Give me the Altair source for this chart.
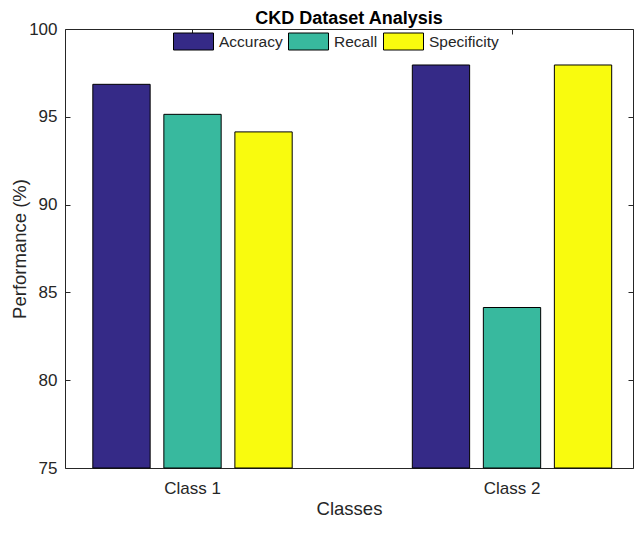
import altair as alt
import pandas as pd

classes = ["Class 1", "Class 2"]
metrics = ["Accuracy", "Recall", "Specificity"]
accuracy = [96.85, 97.95]
recall = [95.14, 84.14]
specificity = [94.14, 97.95]
colors = ["#352A87", "#38B99E", "#F9FB0E"]
y_ticks = [75, 80, 85, 90, 95, 100]

rows = []
for i, c in enumerate(classes):
    for m, vals in zip(metrics, [accuracy, recall, specificity]):
        rows.append({"Class": c, "Metric": m, "Value": vals[i]})
df = pd.DataFrame(rows)

W, H = 568, 439
FONT = "Liberation Sans"
AX = "#262626"

x_scale = alt.Scale(paddingInner=0.2426, paddingOuter=0.0102, align=1)
xo_scale = alt.Scale(paddingInner=0.193, paddingOuter=0.30)
y_scale = alt.Scale(domain=[75, 100], nice=False, zero=False)

def base(x_axis, y_axis, color=None, opacity=1.0):
    enc = dict(
        x=alt.X("Class:N", sort=classes, scale=x_scale, axis=x_axis),
        xOffset=alt.XOffset("Metric:N", sort=metrics, scale=xo_scale),
        y=alt.Y("Value:Q", scale=y_scale, axis=y_axis),
        y2=alt.datum(75),
    )
    if color is not None:
        enc["color"] = color
    return alt.Chart(df).mark_bar(
        stroke="black", strokeWidth=1, opacity=opacity
    ).encode(**enc)

main_x = alt.Axis(
    title="Classes", orient="bottom", ticks=False, tickSize=0, domain=False,
    grid=False, labelAngle=0, labelFont=FONT, labelFontSize=17,
    labelColor=AX, labelPadding=12, titleFont=FONT, titleFontSize=18.5,
    titleFontWeight="normal", titleColor=AX, titleBaseline="alphabetic",
    titleY=46,
)
main_y = alt.Axis(
    title="Performance (%)", orient="left", values=y_ticks, ticks=False,
    tickSize=0, domain=False, grid=False, labelFont=FONT, labelFontSize=17,
    labelColor=AX, labelPadding=8, titleFont=FONT, titleFontSize=18.5,
    titleFontWeight="normal", titleColor=AX, titleBaseline="alphabetic",
    titleX=-40,
)

color = alt.Color(
    "Metric:N", sort=metrics,
    scale=alt.Scale(domain=metrics, range=colors),
    legend=alt.Legend(
        title=None, orient="none", legendX=108, legendY=-8,
        direction="horizontal", padding=0,
        symbolType="M-1,-0.425L1,-0.425L1,0.425L-1,0.425Z",
        symbolSize=1600, symbolStrokeColor="black", symbolStrokeWidth=1,
        symbolOpacity=1, labelFont=FONT, labelFontSize=15.5, labelColor=AX,
        labelOffset=5, columnPadding=3,
    ),
)

layer_main = base(main_x, main_y, color=color)

tick_x_top = alt.Axis(
    title=None, orient="bottom", offset=-H, labels=False, domain=False,
    grid=False, ticks=True, tickSize=5, tickColor=AX,
)
tick_y_left = alt.Axis(
    title=None, orient="right", offset=-W, labels=False, domain=False,
    grid=False, ticks=True, tickSize=5, tickColor=AX, values=y_ticks,
)
tick_y_right = alt.Axis(
    title=None, orient="left", offset=-W, labels=False, domain=False,
    grid=False, ticks=True, tickSize=5, tickColor=AX, values=y_ticks,
)

layer_ticks1 = base(tick_x_top, tick_y_left, opacity=0)
layer_ticks2 = base(None, tick_y_right, opacity=0)

chart = alt.layer(layer_main, layer_ticks1, layer_ticks2).resolve_axis(
    x="independent", y="independent"
).properties(
    width=W, height=H,
    title=alt.TitleParams(
        "CKD Dataset Analysis", font=FONT, fontSize=18, fontWeight="bold",
        color="black", anchor="middle", offset=0, dy=8,
    ),
    padding={"left": 57, "top": 21, "right": 1, "bottom": 50},
    autosize=alt.AutoSizeParams(type="none"),
).configure_view(stroke=AX, strokeWidth=1)

chart.save("out.html", embed_options={"renderer": "svg", "actions": False})
